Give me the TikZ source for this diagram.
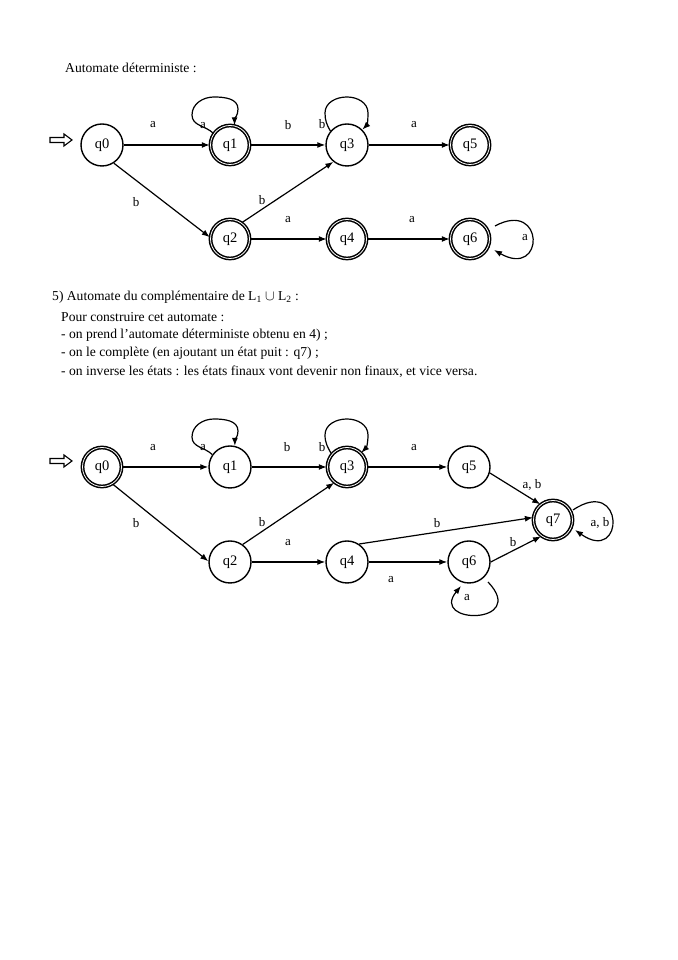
\documentclass[tikz,border=0pt]{standalone}
\usepackage{fontspec}
\setmainfont{Liberation Serif}
\usetikzlibrary{arrows.meta}
\begin{document}
\begin{tikzpicture}[x=1pt,y=1pt,
  st/.style={circle,draw,line width=1.4pt,minimum size=42pt,inner sep=0pt,font=\fontsize{14.5}{14.5}\selectfont},
  fin/.style={st,double,double distance=0.8pt,line width=1.5pt,minimum size=39pt},
  lab/.style={inner sep=0pt,font=\fontsize{13}{13}\selectfont},
  txt/.style={anchor=west,inner sep=0pt,font=\fontsize{13.6}{16}\selectfont},
  tr/.style={-{Latex[length=8pt,width=6pt]},line width=1.2pt},
  initarrow/.style={line width=1.1pt}
]
\useasboundingbox[fill=white] (0,0) rectangle (677,960);

% heading
\node[txt] (h1) at (65,892) {Automate déterministe :};

% ---------- top automaton ----------
\node[st]  (q0) at (102,815) {q0};
\node[fin] (q1) at (230,815) {q1};
\node[st]  (q3) at (347,815) {q3};
\node[fin] (q5) at (470,815) {q5};
\node[fin] (q2) at (230,721) {q2};
\node[fin] (q4) at (347,721) {q4};
\node[fin] (q6) at (470,721) {q6};

\coordinate (i0) at (50,820);
\draw[initarrow] (i0) ++(0,2.5) -- ++(14,0) -- ++(0,3.5) -- ++(8,-6) -- ++(-8,-6) -- ++(0,3.5) -- ++(-14,0) -- cycle;

\draw[tr] (q0) -- (q1);
\draw[tr] (q1) -- (q3);
\draw[tr] (q3) -- (q5);
\draw[tr] (q2) -- (q4);
\draw[tr] (q4) -- (q6);
\draw[tr] (q0.-57) -- (q2.175);
\draw[tr] (q2.54) -- (q3.231);
\draw[tr] (q1.145) to[out=135,in=-90] ([shift={(-38,30)}]q1.center) to[out=90,in=180] ([shift={(-16,48)}]q1.center) to[out=0,in=90] ([shift={(8,36)}]q1.center) to[out=-90,in=90] (q1.77);
\draw[tr] (q3.140) to[out=120,in=-90] ([shift={(-22,32)}]q3.center) to[out=90,in=180] ([shift={(0,48)}]q3.center) to[out=0,in=90] ([shift={(21,32)}]q3.center) to[out=-90,in=45] (q3.45);
\draw[tr] ([shift={(25,13)}]q6.center) .. controls ([shift={(75,40)}]q6.center) and ([shift={(75,-40)}]q6.center) .. ([shift={(24,-11)}]q6.center);

\node[lab] (la1) at (153,835) {a};
\node[lab] (la2) at (203,834) {a};
\node[lab] (la3) at (288,835) {b};
\node[lab] (la4) at (322,836) {b};
\node[lab] (la5) at (414,835) {a};
\node[lab] (la6) at (136,758) {b};
\node[lab] (la7) at (262,760) {b};
\node[lab] (la8) at (288,740) {a};
\node[lab] (la9) at (412,740) {a};
\node[lab] (la10) at (525,722) {a};

% ---------- text ----------
\node[txt] (t1) at (52,663) {5) Automate du complémentaire de L\textsubscript{1} $\cup$ L\textsubscript{2} :};
\node[txt] (t2) at (61,643) {Pour construire cet automate :};
\node[txt] (t3) at (61,625) {- on prend l’automate déterministe obtenu en 4) ;};
\node[txt] (t4) at (61,607) {- on le complète (en ajoutant un état puit : q7) ;};
\node[txt] (t5) at (61,588) {- on inverse les états : les états finaux vont devenir non finaux, et vice versa.};

% ---------- bottom automaton ----------
\node[fin] (p0) at (102,493) {q0};
\node[st]  (p1) at (230,493) {q1};
\node[fin] (p3) at (347,493) {q3};
\node[st]  (p5) at (469,493) {q5};
\node[fin] (p7) at (553,440) {q7};
\node[st]  (p2) at (230,398) {q2};
\node[st]  (p4) at (347,398) {q4};
\node[st]  (p6) at (469,398) {q6};

\coordinate (i1) at (50,499);
\draw[initarrow] (i1) ++(0,2.5) -- ++(14,0) -- ++(0,3.5) -- ++(8,-6) -- ++(-8,-6) -- ++(0,3.5) -- ++(-14,0) -- cycle;

\draw[tr] (p0) -- (p1);
\draw[tr] (p1) -- (p3);
\draw[tr] (p3) -- (p5);
\draw[tr] (p2) -- (p4);
\draw[tr] (p4) -- (p6);
\draw[tr] (p0.-58) -- (p2.178);
\draw[tr] (p2.54) -- (p3.231);
\draw[tr] (p5.-16) -- (p7.129);
\draw[tr] (p4.56) -- (p7.173);
\draw[tr] (p6.0) -- (p7.234);
\draw[tr] (p1.145) to[out=135,in=-90] ([shift={(-38,30)}]p1.center) to[out=90,in=180] ([shift={(-16,48)}]p1.center) to[out=0,in=90] ([shift={(8,36)}]p1.center) to[out=-90,in=90] (p1.77);
\draw[tr] (p3.140) to[out=120,in=-90] ([shift={(-22,32)}]p3.center) to[out=90,in=180] ([shift={(0,48)}]p3.center) to[out=0,in=90] ([shift={(21,32)}]p3.center) to[out=-90,in=45] (p3.45);
\draw[tr] ([shift={(19,-20)}]p6.center) .. controls ([shift={(60,-63)}]p6.center) and ([shift={(-40,-63)}]p6.center) .. ([shift={(-8,-24)}]p6.center);
\draw[tr] ([shift={(20,10)}]p7.center) .. controls ([shift={(72,45)}]p7.center) and ([shift={(72,-45)}]p7.center) .. ([shift={(22,-10)}]p7.center);

\node[lab] (lb1) at (153,512) {a};
\node[lab] (lb2) at (203,512) {a};
\node[lab] (lb3) at (287,513) {b};
\node[lab] (lb4) at (322,513) {b};
\node[lab] (lb5) at (414,512) {a};
\node[lab] (lb6) at (136,437) {b};
\node[lab] (lb7) at (262,438) {b};
\node[lab] (lb8) at (288,417) {a};
\node[lab] (lb9) at (532,475) {a, b};
\node[lab] (lb10) at (437,437) {b};
\node[lab] (lb11) at (513,418) {b};
\node[lab] (lb12) at (391,380) {a};
\node[lab] (lb13) at (467,362) {a};
\node[lab] (lb14) at (600,437) {a, b};
\end{tikzpicture}
\end{document}
